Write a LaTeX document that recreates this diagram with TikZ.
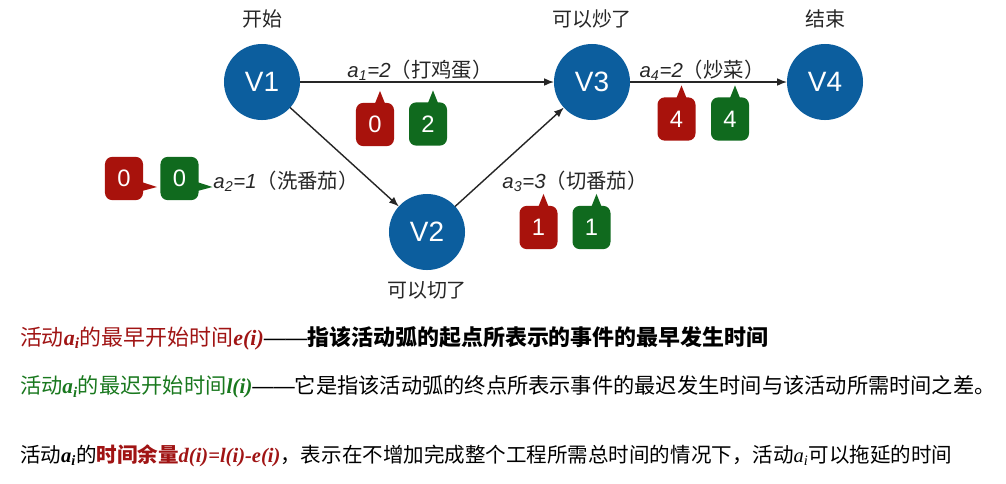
\documentclass[tikz,border=0pt]{standalone}
\usepackage{fontspec}
\setmainfont{Noto Sans CJK SC}
\newfontfamily\helv{Liberation Sans}
\newfontfamily\tms{Liberation Serif}
\usetikzlibrary{positioning,arrows.meta,calc}

\definecolor{eventblue}{RGB}{12,94,158}
\definecolor{tagred}{RGB}{168,18,12}
\definecolor{taggreen}{RGB}{16,106,30}
\definecolor{txtred}{RGB}{160,20,20}
\definecolor{txtgreen}{RGB}{25,120,30}
\newcommand{\mth}[1]{{\tms\bfseries\itshape #1}}
\newcommand{\longdash}{{\helv ——}}

\begin{document}
\begin{tikzpicture}[x=0.025cm, y=-0.025cm,
  every node/.style={inner sep=0pt, outer sep=0pt},
  event/.style={circle, fill=eventblue, minimum size=1.9cm, text=white, font=\helv\fontsize{19.9}{22}\selectfont},
  tag/.style={rounded corners=0.18cm, minimum width=0.95cm, minimum height=1.08cm, text=white, font=\helv\fontsize{16.9}{19}\selectfont},
  actarrow/.style={draw=black!85, line width=1pt, -{Latex[length=7pt,width=5.5pt]}},
  actlabel/.style={font=\fontsize{14.5}{17}\selectfont, text=black!85},
  caption/.style={font=\fontsize{14.2}{17}\selectfont, text=black!85},
  note/.style={anchor=west, font=\fontsize{14.9}{18}\selectfont}]
\useasboundingbox (0,0) rectangle (1006,483);

% events
\foreach \n/\x/\y in {V1/262/82, V2/427/232, V3/592/82, V4/825/82}
  \node[event] (\n) at (\x,\y) {\n};
\node[caption] (startlbl) at (262,19) {开始};
\node[caption] (fry) at (592,19) {可以炒了};
\node[caption] (endlbl) at (825,19) {结束};
\node[caption] (cut) at (427,290) {可以切了};

% activities
\draw[actarrow] (V1) -- (V3);
\draw[actarrow] (V1) -- (V2);
\draw[actarrow] (V2) -- (V3);
\draw[actarrow] (V3) -- (V4);
\node[actlabel] (a1) at (420,70) {{\helv\itshape a\textsubscript{1}=2}（打鸡蛋）};
\node[actlabel] (a2) at (286,181) {{\helv\itshape a\textsubscript{2}=1}（洗番茄）};
\node[actlabel] (a3) at (575,181) {{\helv\itshape a\textsubscript{3}=3}（切番茄）};
\node[actlabel] (a4) at (702,70) {{\helv\itshape a\textsubscript{4}=2}（炒菜）};

% e(i) / l(i) tags, tail up
\foreach \nm/\c/\x/\y/\v in {e1/tagred/375/124.5/0, l1/taggreen/428/124/2,
    e3/tagred/538.5/227.5/1, l3/taggreen/591.5/227.5/1,
    e4/tagred/676.5/119/4, l4/taggreen/730/119/4} {
  \node[tag, fill=\c] (\nm) at (\x,\y) {\v};
  \fill[\c] ($(\nm.north)+(-1,3)$) -- ($(\nm.north)+(5,-12)$) -- ($(\nm.north)+(11,3)$) -- cycle;
}
% tags of a2, tail right
\foreach \nm/\c/\x/\y/\v in {e2/tagred/124/178.5/0, l2/taggreen/179.5/178.5/0} {
  \node[tag, fill=\c] (\nm) at (\x,\y) {\v};
  \fill[\c] ($(\nm.east)+(-3,3)$) -- ($(\nm.east)+(14,8.5)$) -- ($(\nm.east)+(-3,13)$) -- cycle;
}

% definitions
\node[note, font=\fontsize{15.6}{18}\selectfont] (def1) at (20,338) {\color{txtred}活动\mth{a\textsubscript{i}}的最早开始时间\mth{e(i)}\color{black}\longdash\textbf{指该活动弧的起点所表示的事件的最早发生时间}};
\node[note, font=\fontsize{15.1}{18}\selectfont] (def2) at (20,387) {\color{txtgreen}活动\mth{a\textsubscript{i}}的最迟开始时间\mth{l(i)}\color{black}\longdash 它是指该活动弧的终点所表示事件的最迟发生时间与该活动所需时间之差。};
\node[note, font=\fontsize{14.6}{18}\selectfont] (def3) at (20,456) {活动\mth{a\textsubscript{i}}的{\bfseries\color{txtred}时间余量\mth{d(i)=l(i)-e(i)}}，表示在不增加完成整个工程所需总时间的情况下，活动{\tms\itshape a\textsubscript{i}}可以拖延的时间};
\end{tikzpicture}
\end{document}
